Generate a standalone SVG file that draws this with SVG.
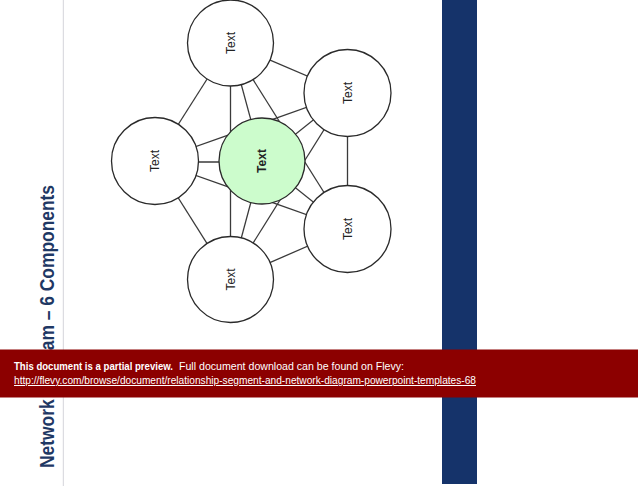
<svg xmlns="http://www.w3.org/2000/svg" width="638" height="486" viewBox="0 0 638 486">
<style>
.edge{stroke:#3a3a3a;stroke-width:1.3;fill:none}
.node{fill:#ffffff;stroke:#2a2a2a;stroke-width:1.3}
.hub{fill:#ccfccc;stroke:#2a2a2a;stroke-width:1.3}
.lbl{font-family:"Liberation Sans",Arial,sans-serif;font-size:12px;fill:#222;text-anchor:middle}
.title{font-family:"Liberation Sans Narrow","Liberation Sans",Arial,sans-serif;font-weight:bold;font-size:20px;fill:#1f3864}
.ban{font-family:"Liberation Sans",Arial,sans-serif;font-size:10px;fill:#ffffff}
</style>
<rect width="638" height="486" fill="#ffffff"/>
<line x1="63.3" y1="0" x2="63.3" y2="486" stroke="#d4d4da" stroke-width="1"/>
<rect x="442" y="0" width="35" height="484" fill="#15336a"/>
<text class="title" transform="translate(54,468) rotate(-90)" textLength="283" lengthAdjust="spacingAndGlyphs">Network Diagram – 6 Components</text>
<g id="connectors">
<line class="edge" x1="230" y1="43" x2="347" y2="93"/>
<line class="edge" x1="230" y1="43" x2="155" y2="161"/>
<line class="edge" x1="230" y1="43" x2="262" y2="161"/>
<line class="edge" x1="230" y1="43" x2="347" y2="229"/>
<line class="edge" x1="230.5" y1="43" x2="230.5" y2="280"/>
<line class="edge" x1="347" y1="93" x2="155" y2="161"/>
<line class="edge" x1="347" y1="93" x2="262" y2="161"/>
<line class="edge" x1="347" y1="93" x2="230" y2="280"/>
<line class="edge" x1="347.5" y1="93" x2="347.5" y2="229"/>
<line class="edge" x1="155" y1="162" x2="262" y2="162"/>
<line class="edge" x1="155" y1="161" x2="347" y2="229"/>
<line class="edge" x1="155" y1="161" x2="230" y2="280"/>
<line class="edge" x1="262" y1="161" x2="230" y2="280"/>
<line class="edge" x1="262" y1="161" x2="347" y2="229"/>
<line class="edge" x1="347" y1="229" x2="230" y2="280"/>
</g>
<g id="node-top"><circle class="node" cx="230.5" cy="43" r="43"/><text class="lbl" transform="translate(230.5,43) rotate(-90)" dy="4.3">Text</text></g>
<g id="node-upper-right"><circle class="node" cx="347.5" cy="93" r="43.5"/><text class="lbl" transform="translate(347.5,93) rotate(-90)" dy="4.3">Text</text></g>
<g id="node-left"><circle class="node" cx="155" cy="161" r="43.5"/><text class="lbl" transform="translate(155,161) rotate(-90)" dy="4.3">Text</text></g>
<g id="node-center"><circle class="hub" cx="262" cy="161" r="43"/><text class="lbl" font-weight="bold" transform="translate(262,161) rotate(-90)" dy="4.3">Text</text></g>
<g id="node-lower-right"><circle class="node" cx="347.5" cy="229" r="43.5"/><text class="lbl" transform="translate(347.5,229) rotate(-90)" dy="4.3">Text</text></g>
<g id="node-bottom"><circle class="node" cx="230.5" cy="279.5" r="43"/><text class="lbl" transform="translate(230.5,279.5) rotate(-90)" dy="4.3">Text</text></g>
<rect x="0" y="349.5" width="638" height="48" fill="#8c0000"/>
<text class="ban" y="370"><tspan x="14" font-weight="bold" textLength="159" lengthAdjust="spacingAndGlyphs">This document is a partial preview.</tspan><tspan x="179" textLength="225" lengthAdjust="spacingAndGlyphs">Full document download can be found on Flevy:</tspan></text>
<text class="ban" x="14" y="384" text-decoration="underline" textLength="462" lengthAdjust="spacingAndGlyphs">http://flevy.com/browse/document/relationship-segment-and-network-diagram-powerpoint-templates-68</text>
</svg>
